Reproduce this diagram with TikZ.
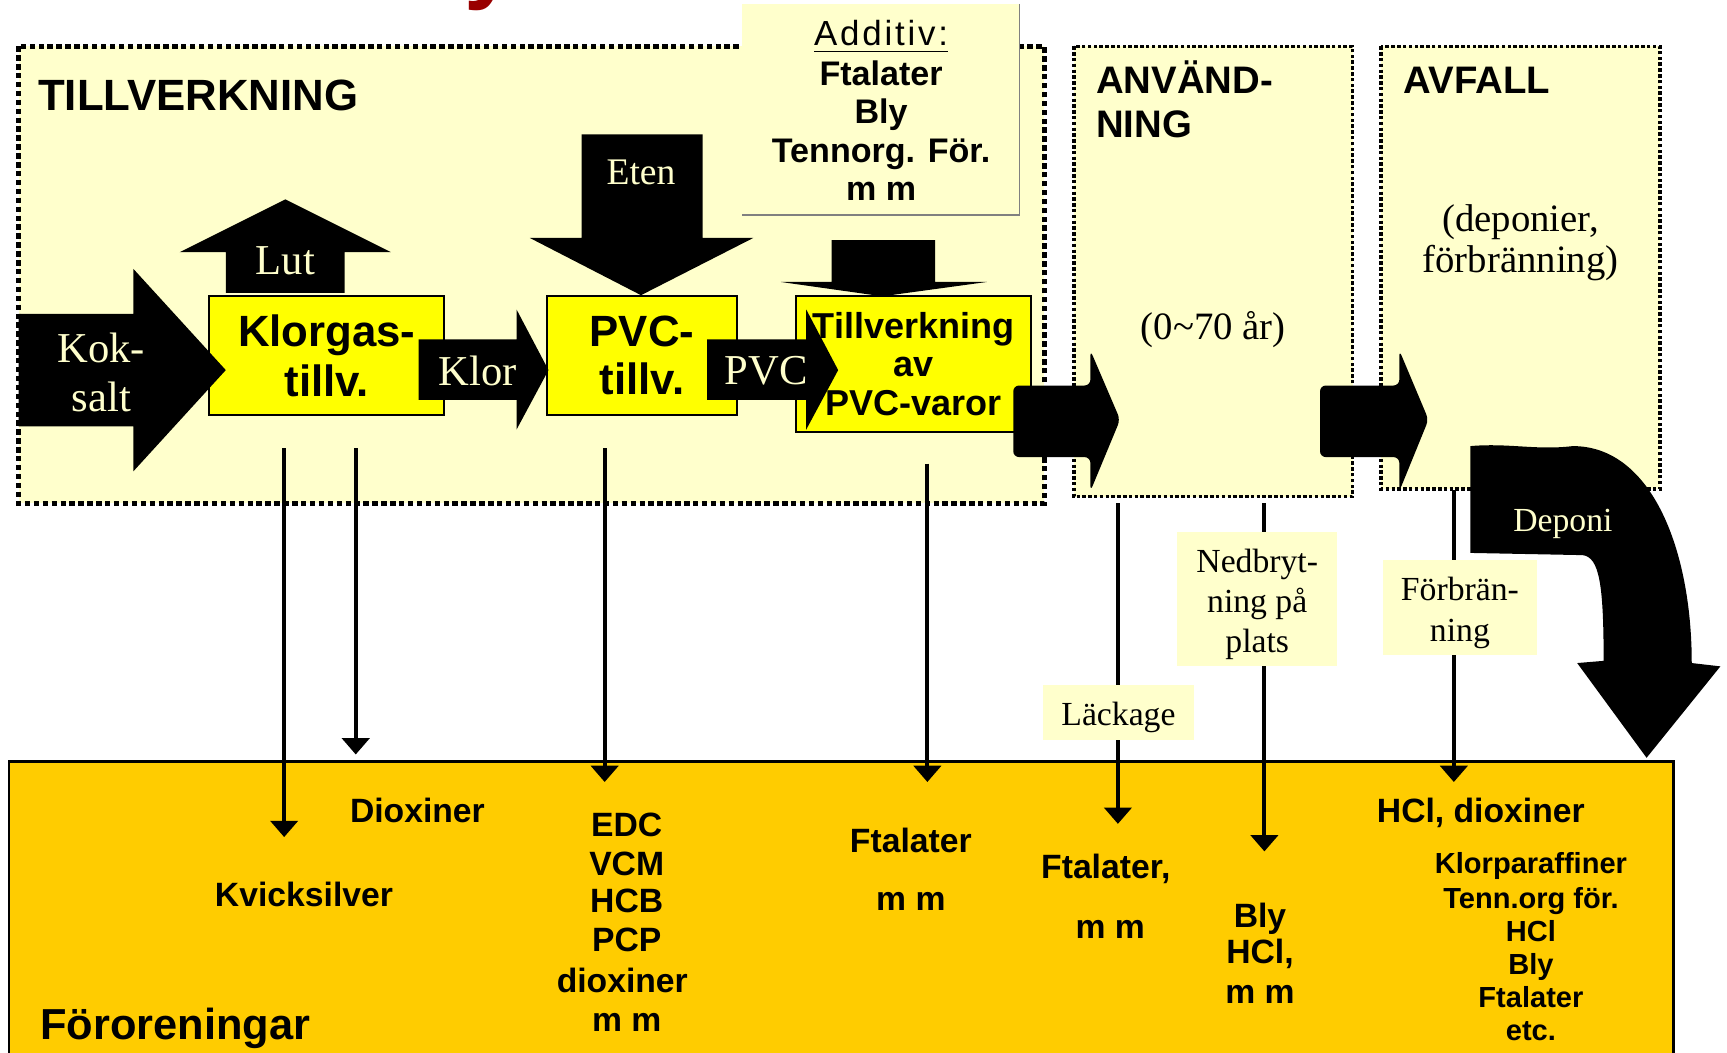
\documentclass[tikz,border=0pt]{standalone}
\usepackage{fontspec}
\setmainfont{Liberation Serif}
\setsansfont{Liberation Sans}
\usetikzlibrary{arrows.meta}
\definecolor{ljusgul}{HTML}{FFFFCC}
\definecolor{gul}{HTML}{FFFF00}
\definecolor{guld}{HTML}{FFCC00}
\definecolor{morkrod}{HTML}{990000}
\tikzset{
  ram/.style={fill=ljusgul, line width=0.9pt, dash pattern=on 0.9pt off 0.6pt},
  lada/.style={draw, line width=0.5pt, fill=gul, inner sep=0pt, align=center},
  utslapp/.style={line width=1pt, -{Triangle[width=7pt,length=4.2pt]}},
  etikett/.style={fill=ljusgul, inner sep=0pt},
  etiketttext/.style={inner sep=0pt, align=center, font=\rmfamily\fontsize{8.7}{10.3}\selectfont},
  amne/.style={inner sep=0pt, text height=6.2pt, text depth=0pt,
    font=\sffamily\bfseries\fontsize{8.7}{10}\selectfont},
  litet/.style={inner sep=0pt, text height=5.4pt, text depth=0pt,
    font=\sffamily\bfseries\fontsize{7.5}{9}\selectfont},
  rubrik/.style={inner sep=0pt, anchor=west, text height=7.1pt, text depth=0pt,
    font=\sffamily\bfseries\fontsize{9.9}{11}\selectfont},
  vit/.style={inner sep=0pt, text=ljusgul, text height=7.3pt, text depth=0pt,
    font=\rmfamily\fontsize{11}{13}\selectfont},
  serif/.style={inner sep=0pt, text height=6.6pt, text depth=0pt,
    font=\rmfamily\fontsize{10}{11}\selectfont}
}
\begin{document}
\begin{tikzpicture}[x=0.01cm, y=-0.01cm]
\useasboundingbox (0,0) rectangle (1568,956);

\node[anchor=base, inner sep=0pt, text=morkrod, font=\sffamily\bfseries\fontsize{24}{24}\selectfont] (titel) at (445,-8) {y};

\draw[ram, line width=1.3pt, dash pattern=on 1.4pt off 0.9pt] (17,42) rectangle (948,457);
\draw[ram] (975,42) rectangle (1228,451);
\draw[ram] (1254,42) rectangle (1507,444);
\draw[fill=guld, line width=0.6pt] (8,691.5) rectangle (1519.5,990);

\fill[ljusgul] (673.6,3.6) rectangle (925.8,195.2);
\draw[gray, line width=0.4pt] (925.8,3.6) -- (925.8,195.2) -- (673.6,195.2);
\node[inner sep=0pt, text height=6.5pt, text depth=0pt,
  font=\sffamily\fontsize{9}{10}\selectfont\addfontfeature{LetterSpace=8}] (additiv) at (800,30) {\underline{Additiv:}};
\foreach \t/\y [count=\i] in {Ftalater/66.6, Bly/101.4, Tennorg. För./136.2, m m/171}
  \node[amne, font=\sffamily\bfseries\fontsize{8.8}{10}\selectfont] (tillsats\i) at (800,\y) {\t};

\node[rubrik, font=\sffamily\bfseries\fontsize{11.3}{12}\selectfont, text height=8.1pt] (tillverkning) at (34,86) {TILLVERKNING};
\node[rubrik] (anv1) at (994.5,72.6) {ANVÄND-};
\node[rubrik] (anv2) at (994.5,112) {NING};
\node[rubrik] (avfall) at (1274,72.6) {AVFALL};
\node[serif] (livslangd) at (1101.5,296.6) {(0\textasciitilde 70 år)};
\node[serif] (avf1) at (1380.6,198.2) {(deponier,};
\node[serif] (avf2) at (1380.6,236) {förbränning)};

\node[lada, minimum width=2.13cm, minimum height=1.08cm,
  font=\sffamily\bfseries\fontsize{11.3}{12.9}\selectfont] (klorgas) at (296.7,322.8) {Klorgas-\\tillv.};
\node[lada, minimum width=1.73cm, minimum height=1.08cm,
  font=\sffamily\bfseries\fontsize{11.3}{12.3}\selectfont] (pvctillv) at (582.9,322.8) {PVC-\\tillv.};
\node[lada, minimum width=2.13cm, minimum height=1.232cm,
  font=\sffamily\bfseries\fontsize{9.3}{10}\selectfont] (varor) at (829.5,330.4) {Tillverkning\\av\\PVC-varor};

\fill (17,285) -- (121,285) -- (121,244) -- (205,336) -- (121,428) -- (121,387) -- (17,387) -- cycle;
\fill (205,266) -- (205,229) -- (163,229) -- (259,181) -- (355,229) -- (313,229) -- (313,266) -- cycle;
\fill (380,308) -- (469,308) -- (469,281) -- (498,336) -- (469,390) -- (469,363) -- (380,363) -- cycle;
\fill (528,122) -- (638,122) -- (638,216) -- (684,216) -- (582,268) -- (481,216) -- (528,216) -- cycle;
\fill (642,308) -- (732,308) -- (732,281) -- (761,336) -- (732,390) -- (732,363) -- (642,363) -- cycle;
\fill (755,218) -- (849,218) -- (849,256) -- (896,256) -- (801,269) -- (709,256) -- (755,256) -- cycle;
\fill[rounded corners=1.5pt] (920,350) -- (990,350) -- (990,318) -- (1017,381) -- (990,446) -- (990,415) -- (920,415) -- cycle;
\fill[rounded corners=1.5pt] (1198.5,350) -- (1270.5,350) -- (1270.5,318) -- (1297,381) -- (1270.5,446) -- (1270.5,415) -- (1198.5,415) -- cycle;
\fill (1335,405) .. controls (1370,402) and (1395,409) .. (1428,405)
  .. controls (1500,405) and (1536,500) .. (1536,602)
  -- (1562,605) -- (1495,688) -- (1432,602) -- (1456,600)
  .. controls (1456,530) and (1452,506) .. (1437,504)
  -- (1335,502) -- cycle;

\node[vit] (kok1) at (92,316) {Kok-};
\node[vit] (kok2) at (92,361) {salt};
\node[vit] (lut) at (259,236) {Lut};
\node[vit] (klor) at (434,337) {Klor};
\node[vit] (pvc) at (695.5,336) {PVC};
\node[vit, font=\rmfamily\fontsize{9.7}{11}\selectfont, text height=6.4pt] (eten) at (582,156) {Eten};
\node[vit, font=\rmfamily\fontsize{8.7}{10}\selectfont, text height=5.8pt] (deponi) at (1419,472) {Deponi};

\foreach \x/\a/\b [count=\i] in {258/407/760, 323/407/685, 549/407/710, 842/421/710,
    1015/457/748, 1148/457/773, 1320/445/710}
{
  \coordinate (fran\i) at (\x,\a);
  \coordinate (till\i) at (\x,\b);
  \draw[utslapp] (fran\i) -- (till\i);
}

\node[etikett, minimum width=1.447cm, minimum height=1.214cm] (nedbrytning) at (1141.2,543.7) {};
\node[etiketttext] (nedbrytningtext) at (1141.5,548.5) {Nedbryt-\\ning på\\plats};
\node[etikett, minimum width=1.37cm, minimum height=0.497cm] (lackage) at (1015.5,647.2) {};
\node[etiketttext] (lackagetext) at (1015.5,651) {Läckage};
\node[etikett, minimum width=1.396cm, minimum height=0.856cm] (forbranning) at (1325.5,551.6) {};
\node[etiketttext, font=\rmfamily\fontsize{8.7}{10.4}\selectfont] (forbranningtext) at (1325.5,556.5) {Förbrän-\\ning};

\node[rubrik, font=\sffamily\bfseries\fontsize{11.2}{12}\selectfont, text height=8pt] (fororeningar) at (36,930) {Föroreningar};
\node[amne] (dioxiner) at (379,736) {Dioxiner};
\node[amne] (kvicksilver) at (276,812) {Kvicksilver};
\foreach \t/\x/\y [count=\i] in {EDC/569/749, VCM/569/784, HCB/569/818, PCP/569/853, dioxiner/565/890, m m/569/926}
  \node[amne] (klorutslapp\i) at (\x,\y) {\t};
\node[amne] (ftal1) at (827,763) {Ftalater};
\node[amne] (ftal2) at (827,816) {m m};
\node[amne] (anvutslapp1) at (1004,787) {Ftalater,};
\node[amne] (anvutslapp2) at (1008,841) {m m};
\foreach \t/\y [count=\i] in {Bly/831, {HCl,}/864, m m/900}
  \node[amne] (nedutslapp\i) at (1144,\y) {\t};
\node[amne] (hcldioxiner) at (1344.5,736) {HCl, dioxiner};
\foreach \t/\y [count=\i] in {Klorparaffiner/784, Tenn.org för./815, HCl/845, Bly/875.5, Ftalater/905, etc./935}
  \node[litet] (avfutslapp\i) at (1390,\y) {\t};
\end{tikzpicture}
\end{document}
